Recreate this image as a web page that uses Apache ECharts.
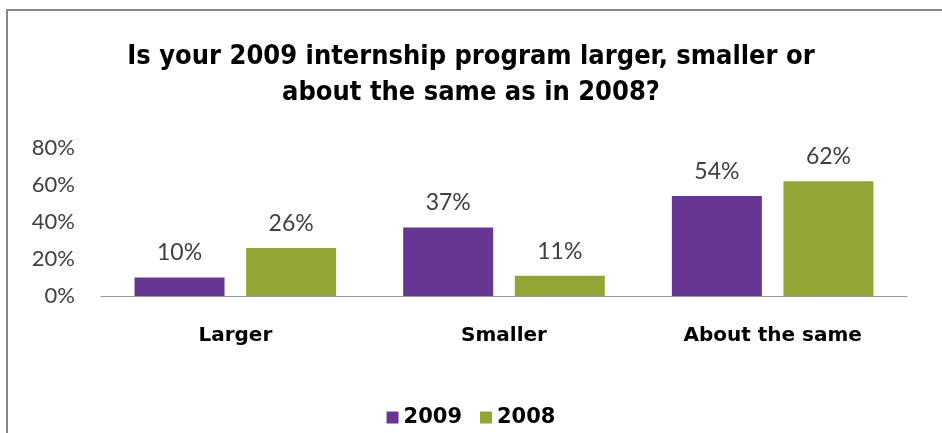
<!DOCTYPE html>
<html>
<head>
<meta charset="utf-8">
<script src="https://cdn.jsdelivr.net/npm/echarts@6/dist/echarts.min.js"></script>
<style>
  html, body { margin: 0; padding: 0; background: #fff; }
  #chart { width: 942px; height: 433px; }
</style>
</head>
<body>
<div id="chart"></div>
<script>
// Survey answers, one group per response
const categories = ['Larger', 'Smaller', 'About the same'];
const seriesNames = ['2009', '2008'];
const values2009 = [10, 37, 54];
const values2008 = [26, 11, 62];
const yTicks = [0, 20, 40, 60, 80];

const chart = echarts.init(document.getElementById('chart'), null, { renderer: 'canvas' });

const valueLabel = {
  show: true,
  position: 'top',
  distance: 13,
  formatter: p => p.value + '%',
  fontFamily: 'Lato, "Open Sans", sans-serif',
  fontSize: 23,
  color: '#404040'
};

chart.setOption({
  animation: false,
  backgroundColor: '#fff',
  graphic: [{
    type: 'rect',
    shape: { x: 7, y: 10, width: 960, height: 440 },
    style: { fill: 'none', stroke: '#888', lineWidth: 2 },
    silent: true
  }],
  title: {
    text: 'Is your 2009 internship program larger, smaller or\nabout the same as in 2008?',
    left: 'center',
    top: 34,
    textStyle: {
      fontFamily: '"DejaVu Sans Condensed", "Liberation Sans Narrow", sans-serif',
      fontWeight: 'bold',
      fontSize: 27,
      lineHeight: 36,
      color: '#000'
    }
  },
  legend: {
    data: seriesNames,
    bottom: 0,
    left: 'center',
    itemWidth: 12,
    itemHeight: 12,
    itemGap: 18,
    icon: 'rect',
    textStyle: {
      fontFamily: '"DejaVu Sans", Verdana, sans-serif',
      fontWeight: 'bold',
      fontSize: 21,
      color: '#000'
    }
  },
  grid: { left: 101, right: 35, top: 148, bottom: 137 },
  xAxis: {
    type: 'category',
    data: categories,
    axisLine: { lineStyle: { color: '#999', width: 1 } },
    axisTick: { show: false },
    axisLabel: {
      margin: 30,
      fontFamily: '"DejaVu Sans", Verdana, sans-serif',
      fontWeight: 'bold',
      fontSize: 20,
      color: '#000'
    }
  },
  yAxis: {
    type: 'value',
    min: yTicks[0],
    max: yTicks[yTicks.length - 1],
    interval: 20,
    splitLine: { show: false },
    axisLine: { show: false },
    axisTick: { show: false },
    axisLabel: {
      margin: 26,
      formatter: v => v + '%',
      fontFamily: 'Lato, "Open Sans", sans-serif',
      fontSize: 22,
      color: '#404040'
    }
  },
  series: [
    {
      name: seriesNames[0],
      type: 'bar',
      data: values2009,
      barWidth: 90,
      barGap: '24%',
      itemStyle: { color: '#663692' },
      label: valueLabel
    },
    {
      name: seriesNames[1],
      type: 'bar',
      data: values2008,
      barWidth: 90,
      barGap: '24%',
      itemStyle: { color: '#93A534' },
      label: valueLabel
    }
  ]
});
</script>
</body>
</html>
